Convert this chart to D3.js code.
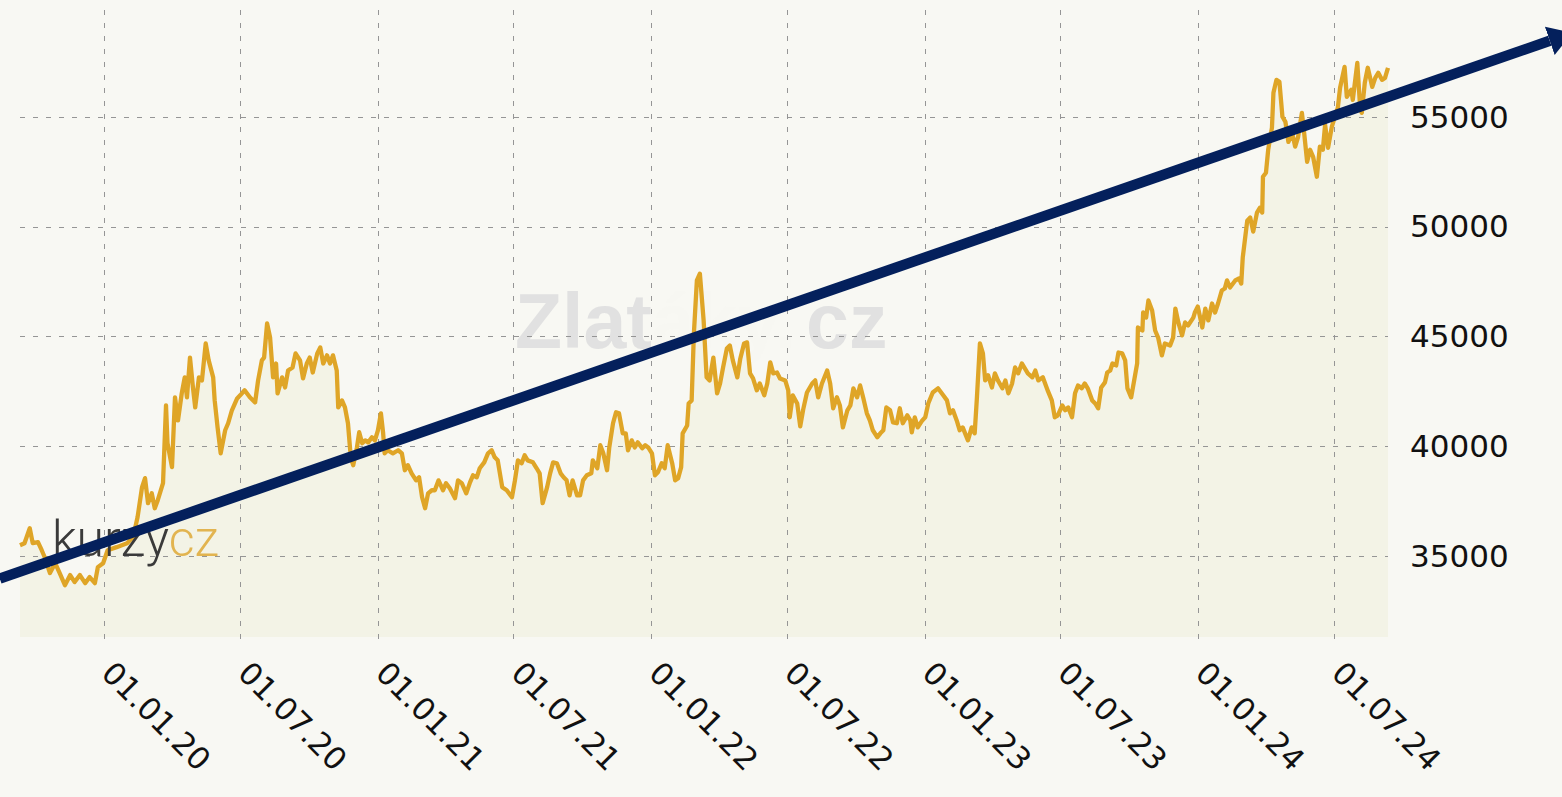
<!DOCTYPE html>
<meta charset="utf-8">
<title>Cena zlata</title>
<style>
body {
  margin: 0;
  background: #f8f8f3;
}
svg {
  display: block;
  font-family: 'DejaVu Sans', sans-serif;
}
.grid line {
  stroke: #959595;
  stroke-width: 1;
  stroke-dasharray: 5,8;
  shape-rendering: crispEdges;
}
.axis text {
  font-size: 31px;
  fill: #111;
}
</style>
<body>
<svg width="1562" height="797"></svg>
<script src="https://d3js.org/d3.v7.min.js"></script>
<script>
// days counted from 01.01.2020, price in CZK
var days = [-112,-106,-99,-95,-88,-83,-79,-72,-65,-59,-52,-45,-39,-32,-25,-19,-12,-8,-1,5,17,31,39,45,51,55,59,64,68,72,79,83,85,91,95,99,104,108,111,115,119,122,127,131,136,140,146,148,152,156,162,166,171,178,182,188,195,202,206,211,214,218,222,226,230,232,238,242,246,252,256,262,266,271,275,279,285,289,293,298,302,306,311,313,318,322,326,329,331,333,338,341,345,349,353,358,362,366,370,373,375,379,386,393,398,402,406,411,417,421,425,429,433,438,442,447,453,457,462,469,473,478,484,489,493,498,502,508,513,518,522,526,532,538,545,549,553,558,562,566,573,578,582,586,592,596,600,605,610,614,618,622,626,632,636,640,645,651,653,659,663,667,672,675,680,684,688,693,697,700,705,709,713,719,723,727,732,736,740,745,749,753,759,763,767,771,773,779,781,785,788,792,796,801,805,809,814,819,823,827,832,836,840,846,850,855,859,863,867,872,876,882,886,890,894,899,903,910,914,916,920,926,930,934,939,946,950,954,959,966,970,974,979,983,987,993,997,1001,1006,1010,1014,1019,1023,1027,1033,1037,1041,1045,1050,1054,1059,1063,1067,1073,1077,1079,1083,1087,1093,1097,1101,1107,1114,1121,1126,1130,1134,1139,1143,1147,1154,1159,1163,1166,1170,1174,1177,1181,1186,1190,1194,1200,1204,1208,1213,1217,1221,1226,1230,1234,1240,1244,1248,1254,1261,1266,1270,1274,1280,1284,1288,1293,1297,1301,1306,1310,1314,1320,1324,1328,1332,1337,1340,1344,1347,1352,1355,1360,1364,1367,1372,1376,1380,1381,1387,1388,1392,1395,1400,1404,1408,1413,1417,1424,1428,1431,1435,1440,1444,1448,1455,1457,1461,1467,1471,1475,1480,1484,1488,1493,1497,1500,1504,1511,1516,1519,1521,1527,1531,1535,1540,1544,1547,1548,1552,1555,1560,1562,1566,1570,1574,1578,1582,1587,1591,1595,1600,1603,1607,1611,1615,1620,1624,1628,1631,1635,1640,1644,1648,1651,1657,1660,1666,1668,1674,1678,1680,1684,1688,1694,1698,1702,1707,1711,1715];

var prices = [35500,35590,36270,35590,35640,35270,34950,34230,34680,34230,33680,34140,33820,34140,33770,34050,33770,34500,34680,35270,35410,35590,35860,36770,38140,38550,37410,37860,37180,37550,38320,41860,40140,39050,42230,41180,42410,43140,42230,44040,42680,41770,43140,43000,44680,43910,43140,42090,40820,39680,40730,41050,41640,42180,42320,42550,42230,42000,43000,43910,44040,45590,44950,43140,43770,42410,43140,42680,43450,43590,44230,43910,43090,43770,44040,43360,44230,44500,43770,44140,43770,44140,43450,41770,42090,41770,41050,39820,39360,39140,39950,40640,40140,40270,40180,40410,40270,40730,41500,40590,39680,39820,39680,39820,39680,38910,39140,38770,38450,38590,37680,37180,37860,38000,38000,38450,38000,38320,38090,37640,38450,38320,37860,38360,38680,38590,39000,39270,39680,39820,39500,39360,38140,38000,37680,38450,39360,39230,39590,39360,39270,39000,38770,37410,38140,38770,39270,39230,38770,38590,38450,37770,38450,37770,37770,38450,38680,38770,39360,39000,40050,39680,38910,39950,41050,41550,41500,40590,40590,39820,40270,39950,40180,39910,40050,39950,39680,38680,38820,39230,39000,40050,39230,38450,38550,39050,40590,40950,41950,42090,45140,47550,47860,45730,43140,43000,44040,42410,42860,43590,44450,44590,43910,43140,44000,44680,44730,43320,43090,42550,42860,42320,42860,43820,43320,43360,43090,43000,42550,41320,42320,41950,40910,41680,42450,42860,43000,42230,42860,43450,42860,41730,42230,41860,40860,41640,41860,42640,42230,42770,42230,41500,41180,40730,40410,40590,40730,41770,41640,41090,41050,41730,41050,41410,41180,40640,41320,40860,41180,41320,41950,42450,42640,42320,42090,41500,41640,41180,40730,40860,40270,40860,40590,42230,44680,44230,43000,43230,42680,43320,43000,42640,43000,42410,42860,43590,43320,43770,43550,43320,43140,43450,43000,43140,42500,42090,41320,41410,41860,41640,41770,41320,42410,42770,42640,42860,42640,42090,41950,41730,42680,42910,43360,43450,43770,43680,44270,44230,43910,42640,42230,43000,43770,45410,45270,46090,45860,46640,46180,45270,44950,44140,44680,44590,44950,46270,45640,45050,45640,45500,45860,46090,46360,45410,46270,45730,46500,46090,46500,47090,47180,47550,47230,47550,47640,47410,48590,50270,50410,49770,50640,50860,50640,52270,52450,53500,54500,56090,56680,56590,55000,54770,53860,54270,53640,54090,55180,54270,52950,53500,53180,52270,53640,53500,54640,53590,54550,55000,55410,56320,57270,55910,56230,55770,57450,55320,55180,56550,57230,56360,56770,57000,56680,56770,57230];

var yTicks = [35000, 40000, 45000, 50000, 55000];

// trend arrow, start and head base
var trendDates = ["2019-08-15", "2025-04-15"];
var trendValues = [33980, 58460];

var svg = d3.select("svg"),
    plot = {left: 20, right: 1388, top: 10, bottom: 637};

var origin = new Date(2020, 0, 1);
var data = days.map(function(d, i) {
  return {date: d3.timeDay.offset(origin, d), value: prices[i]};
});

var x = d3.scaleTime()
    .domain([new Date(2019, 8, 11), new Date(2024, 8, 11)])
    .range([plot.left, plot.right]);

var y = d3.scaleLinear()
    .domain([31320, 59860])
    .range([plot.bottom, plot.top]);

var xTicks = d3.timeMonths(new Date(2020, 0, 1), new Date(2024, 7, 1), 6);
var fmt = d3.timeFormat("%d.%m.%y");

// watermark (middle letters almost invisible in the original)
var wm = svg.append("text")
    .attr("x", 515)
    .attr("y", 348)
    .attr("font-family", "'Liberation Sans', Arial, sans-serif")
    .attr("font-weight", "bold")
    .attr("font-size", "77px")
    .attr("fill", "#e1e1e1");
wm.append("tspan").text("Zlat");
wm.append("tspan").attr("fill-opacity", 0.04).text("áky.");
wm.append("tspan").attr("dx", 10).text("cz");

// area under the line
svg.append("path")
    .datum(data)
    .attr("fill", "#f3f3e6")
    .attr("d", d3.area()
      .x(function(d) { return x(d.date); })
      .y0(plot.bottom)
      .y1(function(d) { return y(d.value); }));

// gridlines
var grid = svg.append("g").attr("class", "grid");
grid.selectAll(".v")
    .data(xTicks)
  .enter().append("line")
    .attr("x1", function(d) { return Math.round(x(d)) + 0.5; })
    .attr("x2", function(d) { return Math.round(x(d)) + 0.5; })
    .attr("y1", plot.top)
    .attr("y2", plot.bottom + 2);
grid.selectAll(".h")
    .data(yTicks)
  .enter().append("line")
    .attr("x1", plot.left)
    .attr("x2", plot.right)
    .attr("y1", function(d) { return Math.round(y(d)) + 0.5; })
    .attr("y2", function(d) { return Math.round(y(d)) + 0.5; });

// price line
svg.append("path")
    .datum(data)
    .attr("fill", "none")
    .attr("stroke", "#dfa527")
    .attr("stroke-width", 4.3)
    .attr("stroke-linejoin", "round")
    .attr("d", d3.line()
      .x(function(d) { return x(d.date); })
      .y(function(d) { return y(d.value); }));

// y labels on the right
svg.append("g")
    .attr("class", "axis")
  .selectAll("text")
    .data(yTicks)
  .enter().append("text")
    .attr("x", 1410)
    .attr("y", function(d) { return y(d); })
    .attr("dy", "0.35em")
    .text(function(d) { return d; });

// x labels, rotated
svg.append("g")
    .attr("class", "axis")
  .selectAll("text")
    .data(xTicks)
  .enter().append("text")
    .attr("transform", function(d) { return "translate(" + (x(d) - 4) + ",675) rotate(45)"; })
    .text(function(d) { return fmt(d); });

// kurzy.cz logo
var logo = svg.append("text")
    .attr("x", 52)
    .attr("y", 556)
    .attr("font-family", "Roboto, sans-serif")
    .attr("font-weight", 300)
    .attr("font-size", "50px");
logo.append("tspan").attr("fill", "#3a3a3a").text("kurzy");
logo.append("tspan").attr("fill", "#e2b450").text("cz");

// trend arrow
svg.append("defs").append("marker")
    .attr("id", "head")
    .attr("markerUnits", "userSpaceOnUse")
    .attr("markerWidth", 30)
    .attr("markerHeight", 32)
    .attr("refX", 0)
    .attr("refY", 0)
    .attr("viewBox", "0 -16 30 32")
    .attr("orient", "auto")
  .append("path")
    .attr("d", "M0,-15L24,0L0,15Z")
    .attr("fill", "#04205c");

var trend = trendDates.map(function(d, i) {
  return {date: d3.isoParse(d), value: trendValues[i]};
});
svg.append("path")
    .datum(trend)
    .attr("fill", "none")
    .attr("stroke", "#04205c")
    .attr("stroke-width", 10.5)
    .attr("marker-end", "url(#head)")
    .attr("d", d3.line()
      .x(function(d) { return x(d.date); })
      .y(function(d) { return y(d.value); }));
</script>
</body>
